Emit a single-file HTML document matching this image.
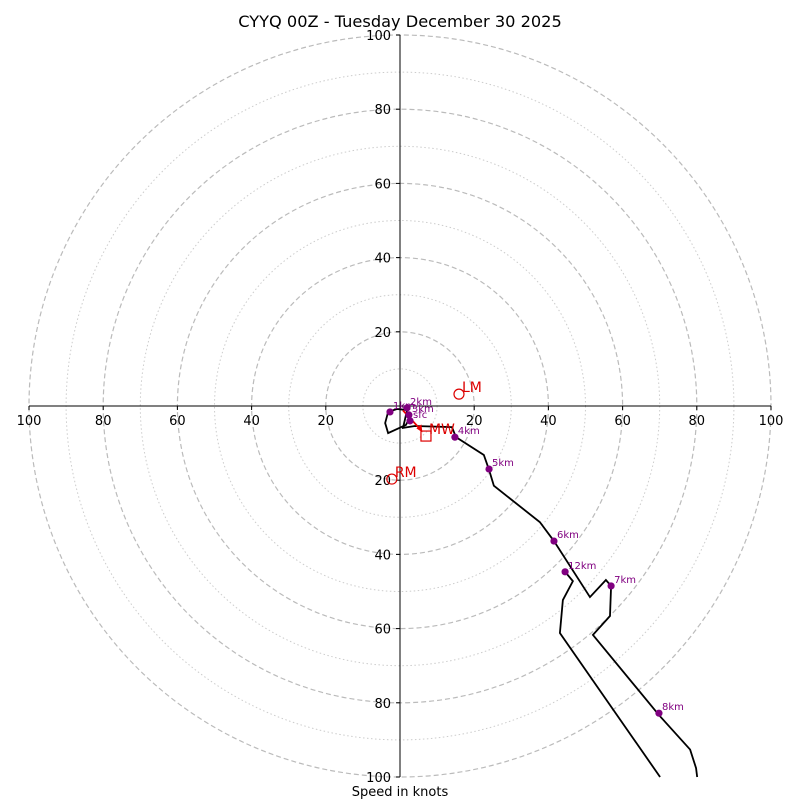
<!DOCTYPE html>
<html><head><meta charset="utf-8"><style>
html,body{margin:0;padding:0;background:#fff;}
svg{display:block;font-family:"DejaVu Sans","Liberation Sans",sans-serif;}
</style></head><body>
<svg id="chart" width="800" height="800" viewBox="0 0 800 800" xmlns="http://www.w3.org/2000/svg">
<rect width="800" height="800" fill="#fff"/>
<text x="400" y="27" text-anchor="middle" font-size="16.2">CYYQ 00Z - Tuesday December 30 2025</text>
<text x="400" y="796" text-anchor="middle" font-size="13">Speed in knots</text>
<g id="rings"></g><g id="axes"></g><g id="trace"></g><g id="marks"></g>
</svg>
<script>
// Hodograph path (u, v in knots)
const traceU = [2.7,1.6,-3.2,-4.0,-3.2,-0.8,1.9,1.3,0.8,4.0,14.0,15.1,22.6,24.0,25.3,37.7,41.5,51.2,55.5,56.9,56.6,52.0,69.8,78.2,79.8,80.1];
const traceV = [-3.0,-5.1,-7.3,-4.6,-1.6,-0.8,-1.1,-3.8,-5.9,-5.4,-5.7,-8.4,-13.2,-17.2,-21.5,-31.3,-36.4,-51.5,-46.9,-48.5,-56.6,-61.7,-83.3,-92.6,-97.6,-100];
const trace2U = [70.1,43.1,43.9,46.6,44.5];
const trace2V = [-100,-61.2,-52.3,-47.2,-44.7];
// Height markers
const hLabels = ["1km","2km","3km","sfc","4km","5km","6km","12km","7km","8km"];
const hU = [-2.7,1.9,2.4,2.7,14.8,24.0,41.5,44.5,56.9,69.8];
const hV = [-1.6,-0.5,-2.4,-4.0,-8.4,-17.0,-36.4,-44.7,-48.5,-82.8];
// Storm motions
const smLabels = ["LM","RM","MW"];
const smU = [15.9,-2.2,7.0];
const smV = [3.2,-19.7,-8.1];
const ringVals = [10,20,30,40,50,60,70,80,90,100];
const tickVals = [20,40,60,80,100];

const NS="http://www.w3.org/2000/svg";
const cx=400, cy=406, sc=3.71;
const X=u=>cx+u*sc, Y=v=>cy-v*sc;
function mk(tag,attrs,parent){const e=document.createElementNS(NS,tag);for(const k in attrs)e.setAttribute(k,attrs[k]);document.getElementById(parent).appendChild(e);return e;}

ringVals.forEach(r=>{
  const c=mk('circle',{cx:cx,cy:cy,r:r*sc,fill:'none',stroke:r%20===0?'#bbb':'#ccc','stroke-width':r%20===0?1.2:1,'stroke-dasharray':r%20===0?'5,3':'1.5,2.5'},'rings');
  
  
});
let l=mk('line',{x1:X(-100),y1:cy,x2:X(100),y2:cy,stroke:'#000','stroke-width':1},'axes');


l=mk('line',{x1:cx,y1:Y(100),x2:cx,y2:Y(-100),stroke:'#000','stroke-width':1},'axes');


tickVals.forEach(t=>{
  [t,-t].forEach(s=>{
    mk('line',{x1:X(s),y1:cy,x2:X(s),y2:cy+4,stroke:'#000'},'axes');
    let tx=mk('text',{x:X(s),y:cy+19,'text-anchor':'middle','font-size':13},'axes');
    tx.textContent=t;
    
    
    mk('line',{x1:cx-4,y1:Y(s),x2:cx,y2:Y(s),stroke:'#000'},'axes');
    tx=mk('text',{x:cx-9,y:Y(s)+5,'text-anchor':'end','font-size':13},'axes');
    tx.textContent=t;
    
    
  });
});
let p=mk('polyline',{points:traceU.map((u,i)=>X(u)+','+Y(traceV[i])).join(' '),fill:'none',stroke:'#000','stroke-width':1.8},'trace');


p=mk('polyline',{points:trace2U.map((u,i)=>X(u)+','+Y(trace2V[i])).join(' '),fill:'none',stroke:'#000','stroke-width':1.8},'trace');


// mean wind arrow
const a=mk('line',{x1:X(0.8),y1:Y(-1.2),x2:X(smU[2]-1.5),y2:Y(smV[2]+1.8),stroke:'#e00','stroke-width':1.8},'marks');


const ax=X(smU[2]-1.5), ay=Y(smV[2]+1.8);
const ah=mk('polygon',{points:`${ax+2},${ay+3} ${ax-4},${ay-1} ${ax+1},${ay-5}`,fill:'#e00'},'marks');


hLabels.forEach((h,i)=>{
  const d=mk('circle',{cx:X(hU[i]),cy:Y(hV[i]),r:3.6,fill:'purple'},'marks');
  
  
  const t=mk('text',{x:X(hU[i])+3,y:Y(hV[i])-3,'font-size':10,fill:'purple'},'marks');
  t.textContent=h;
  
  
});
smLabels.forEach((s,i)=>{
  let m;
  if(s==='MW') m=mk('rect',{x:X(smU[i])-5,y:Y(smV[i])-5,width:10,height:10,fill:'none',stroke:'#d00','stroke-width':1.2},'marks');
  else m=mk('circle',{cx:X(smU[i]),cy:Y(smV[i]),r:5,fill:'none',stroke:'#d00','stroke-width':1.2},'marks');
  
  
  const t=mk('text',{x:X(smU[i])+3,y:Y(smV[i])-2,'font-size':14,fill:'#d00'},'marks');
  t.textContent=s;
  
  
});
</script>
</body></html>
